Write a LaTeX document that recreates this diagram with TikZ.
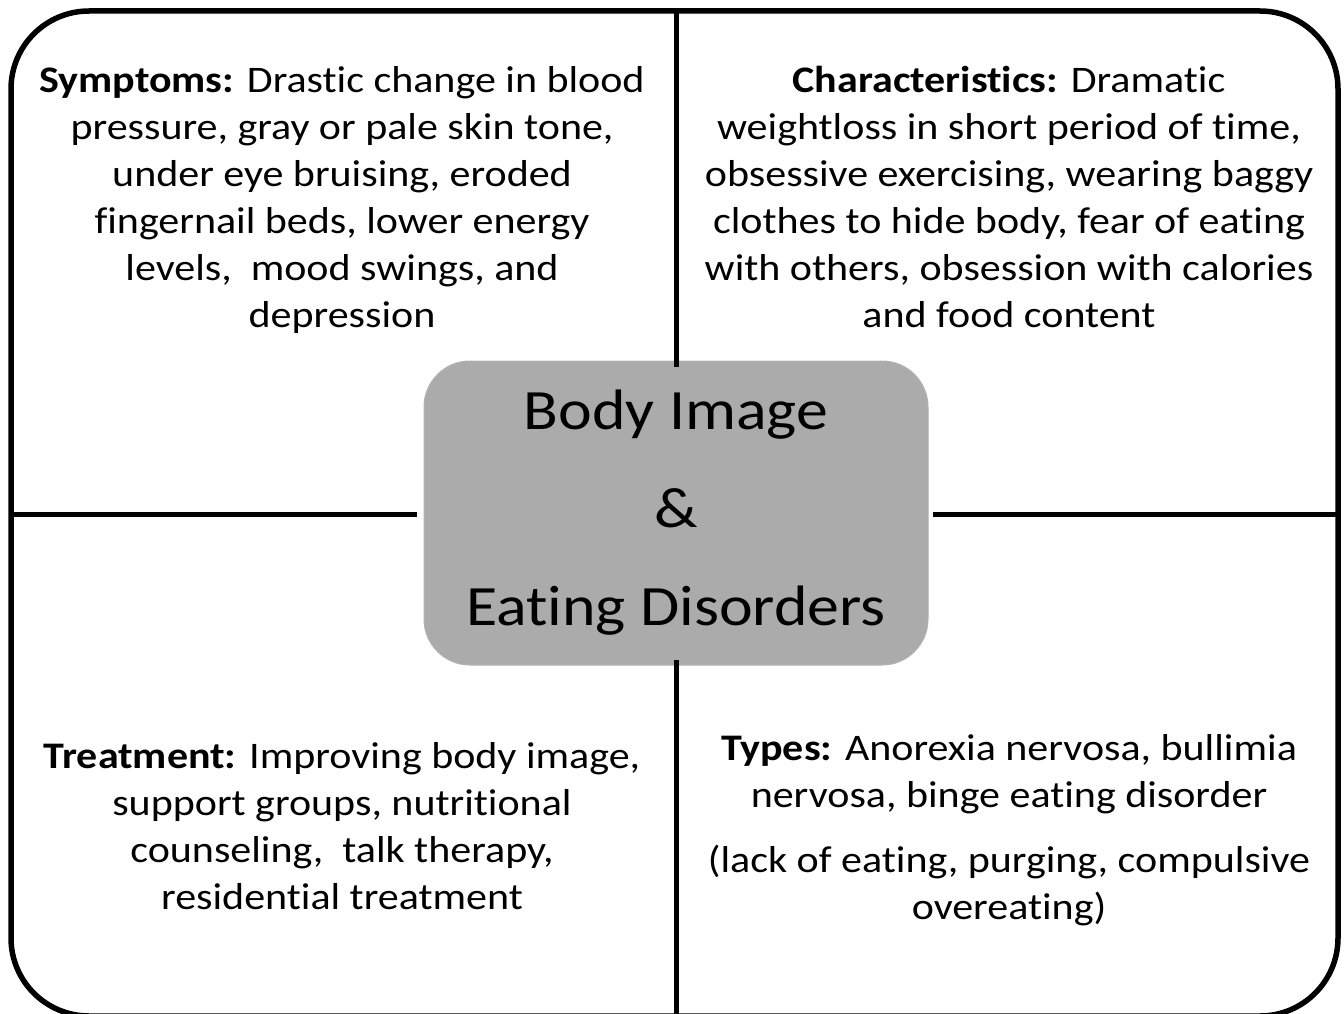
\documentclass[tikz,border=0pt]{standalone}
\usepackage{fontspec}
\setmainfont{Carlito}[FakeStretch=1.12,Ligatures={NoCommon}]
\begin{document}
\begin{tikzpicture}[x=1pt,y=-1pt,
  frame/.style={line width=5.5pt,draw=black},
  divider/.style={line width=5pt,draw=black},
  quad/.style={align=center,font=\fontsize{37.5}{47}\selectfont,inner sep=0pt},
  hub/.style={draw=gray!60,line width=1pt,fill=black!33,rounded corners=46pt,
    minimum width=504pt,minimum height=304pt,align=center,
    font=\fontsize{57}{98}\selectfont,inner sep=0pt}]
\useasboundingbox (0,0) rectangle (1344,1014);
% outer frame
\draw[frame,rounded corners=78pt] (11,11) rectangle (1338,1016);
% end points of the dividers on the frame
\coordinate (top) at (676,11);
\coordinate (bottom) at (676,1016);
\coordinate (left) at (11,514);
\coordinate (right) at (1338,514);
% central topic
\node[hub] (hub) at (676,513) {Body Image\\\&\\Eating Disorders};
\draw[divider] (top) -- ([yshift=-6pt]hub.north);
\draw[divider] ([yshift=6pt]hub.south) -- (bottom);
\draw[divider] (left) -- ([xshift=-7pt]hub.west |- left);
\draw[divider] ([xshift=4pt]hub.east |- right) -- (right);
% quadrant texts
\node[quad,anchor=north] (symptoms) at (342,66) {\textbf{Symptoms:} Drastic change in blood\\pressure, gray or pale skin tone,\\under eye bruising, eroded\\fingernail beds, lower energy\\levels,\ \ mood swings, and\\depression};
\node[quad,anchor=north] (character) at (1009,66) {\textbf{Characteristics:} Dramatic\\weightloss in short period of time,\\obsessive exercising, wearing baggy\\clothes to hide body, fear of eating\\with others, obsession with calories\\and food content};
\node[quad,anchor=north] (treatment) at (342,742) {\textbf{Treatment:} Improving body image,\\support groups, nutritional\\counseling,\ \ talk therapy,\\residential treatment};
\node[quad,anchor=north] (types) at (1009,734) {\textbf{Types:} Anorexia nervosa, bullimia\\nervosa, binge eating disorder\\[18pt](lack of eating, purging, compulsive\\overeating)};
\end{tikzpicture}
\end{document}
